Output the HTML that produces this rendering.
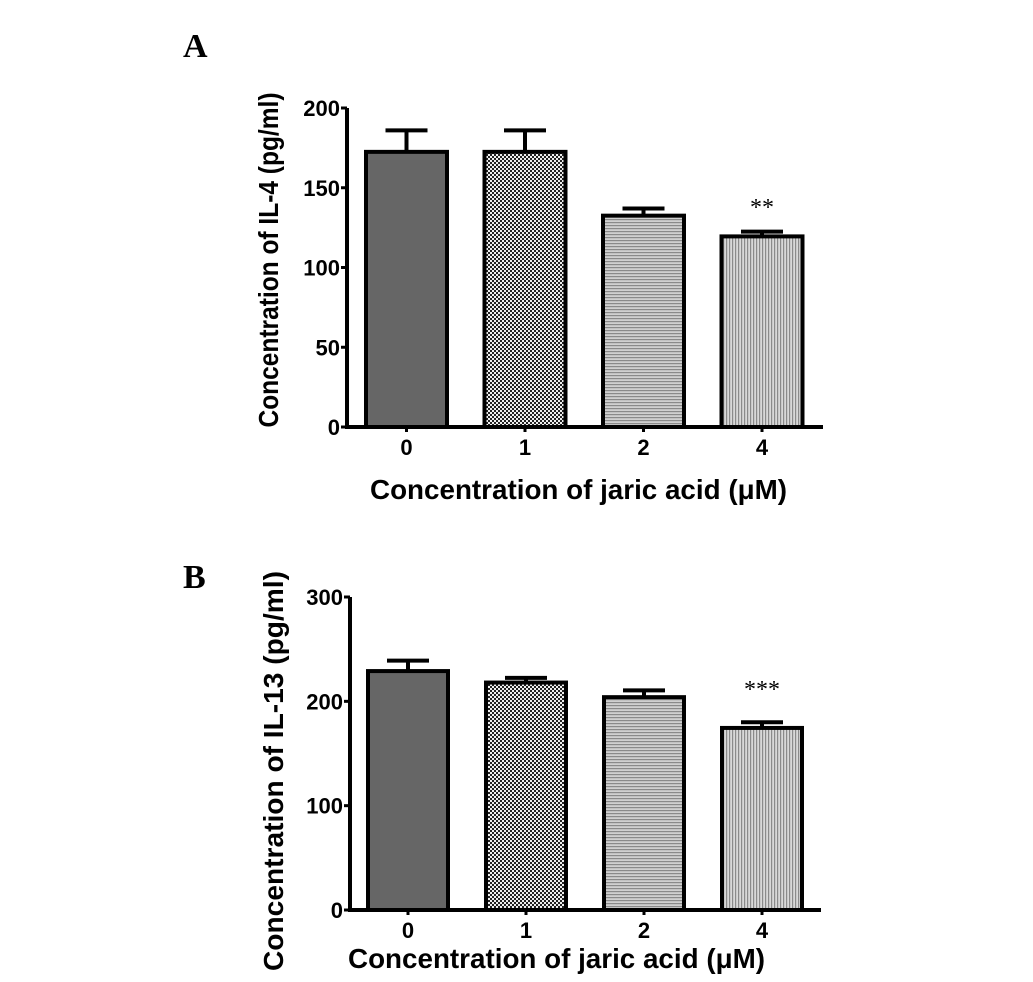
<!DOCTYPE html>
<html><head><meta charset="utf-8"><style>
body{margin:0;background:#fff}
svg{display:block}
text{font-family:"Liberation Sans",Arial,sans-serif;font-weight:bold;fill:#000}
</style></head><body>
<svg width="1033" height="982" viewBox="0 0 1033 982">
<defs>
<pattern id="pChk" width="4" height="4" patternUnits="userSpaceOnUse"><rect width="4" height="4" fill="#eee"/><rect width="2" height="2" fill="#222"/><rect x="2" y="2" width="2" height="2" fill="#222"/></pattern>
<pattern id="pH" width="4" height="3" patternUnits="userSpaceOnUse"><rect width="4" height="3" fill="#d0d0d0"/><rect width="4" height="1.2" fill="#8a8a8a"/></pattern>
<pattern id="pV" width="3" height="4" patternUnits="userSpaceOnUse"><rect width="3" height="4" fill="#d8d8d8"/><rect width="1.2" height="4" fill="#8a8a8a"/></pattern>
</defs>
<g id="chartA"></g>
<g id="chartB"></g>
</svg>
<script>
const categories=["0","1","2","4"];
const valuesA=[172.5,172.5,132.5,119.5];
const errorsA=[13.5,13.5,4.5,3];
const ticksA=[0,50,100,150,200];
const valuesB=[229,218,204,174.5];
const errorsB=[10,4.5,6.5,5.5];
const ticksB=[0,100,200,300];
const fills=["#666","url(#pChk)","url(#pH)","url(#pV)"];
const NS="http://www.w3.org/2000/svg";
function mk(p,tag,attrs,txt){const e=document.createElementNS(NS,tag);for(const k in attrs)e.setAttribute(k,attrs[k]);if(txt!==undefined)e.textContent=txt;p.appendChild(e);return e;}
function draw(g,cfg){
  const y=v=>cfg.y0-(v-0)/cfg.max*(cfg.y0-cfg.yTop);
  const bx=i=>cfg.x0+cfg.first+i*cfg.step;
  const L=mk(g,"text",{x:183,y:cfg.letterY,style:"font-family:'Liberation Serif',serif;font-size:34px"},cfg.letter);
  
  
  categories.forEach((c,i)=>{
    const v=cfg.vals[i],e=cfg.errs[i],cx=bx(i)+cfg.bw/2;
    const er=mk(g,"path",{d:`M${cx} ${y(v)} V${y(v+e)} M${cx-21} ${y(v+e)} H${cx+21}`,stroke:"#000","stroke-width":4,fill:"none"});
    
    
    const r=mk(g,"rect",{x:bx(i),y:y(v),width:cfg.bw,height:cfg.y0-y(v),fill:fills[i],stroke:"#000","stroke-width":4});
    
    
    const t=mk(g,"text",{x:cx,y:cfg.y0+28,"text-anchor":"middle","font-size":22},c);
    
    
    mk(g,"line",{x1:cx,x2:cx,y1:cfg.y0,y2:cfg.y0+5,stroke:"#000","stroke-width":3});
  });
  const ax=mk(g,"path",{d:`M${cfg.x0} ${cfg.yTop} V${cfg.y0} H${cfg.xEnd}`,stroke:"#000","stroke-width":4,fill:"none"});
  
  
  cfg.ticks.forEach(tv=>{
    mk(g,"line",{x1:cfg.x0-6,x2:cfg.x0,y1:y(tv),y2:y(tv),stroke:"#000","stroke-width":3});
    const t=mk(g,"text",{x:cfg.x0-7,y:y(tv)+8,"text-anchor":"end","font-size":22},String(tv));
    
    
  });
  const s=mk(g,"text",{x:bx(3)+cfg.bw/2,y:cfg.starY,"text-anchor":"middle","font-size":24,style:"font-family:'Liberation Serif',serif;font-weight:normal"},cfg.star);
  
  
  const xt=mk(g,"text",{x:cfg.xlx,y:cfg.xlY,"font-size":28,textLength:417,lengthAdjust:"spacingAndGlyphs"},"Concentration of jaric acid (μM)");
  
  
  const yt=mk(g,"text",{x:0,y:0,"text-anchor":"middle","font-size":28,textLength:cfg.ytLen,lengthAdjust:"spacingAndGlyphs",transform:`translate(${cfg.ytX},${cfg.ytY}) rotate(-90)`},cfg.ytitle);
  
  
}
draw(document.getElementById("chartA"),{letter:"A",letterY:57,vals:valuesA,errs:errorsA,ticks:ticksA,max:200,x0:347,y0:427,yTop:108,xEnd:823,first:19,step:118.5,bw:81,star:"**",starY:215,xlx:370,xlY:499,ytitle:"Concentration of IL-4 (pg/ml)",ytX:278,ytY:260,ytLen:335});
draw(document.getElementById("chartB"),{letter:"B",letterY:588,vals:valuesB,errs:errorsB,ticks:ticksB,max:300,x0:350,y0:910,yTop:597,xEnd:821,first:18,step:118,bw:80,star:"***",starY:697,xlx:348,xlY:968,ytitle:"Concentration of IL-13 (pg/ml)",ytX:283,ytY:771,ytLen:400});
</script>
</body></html>
